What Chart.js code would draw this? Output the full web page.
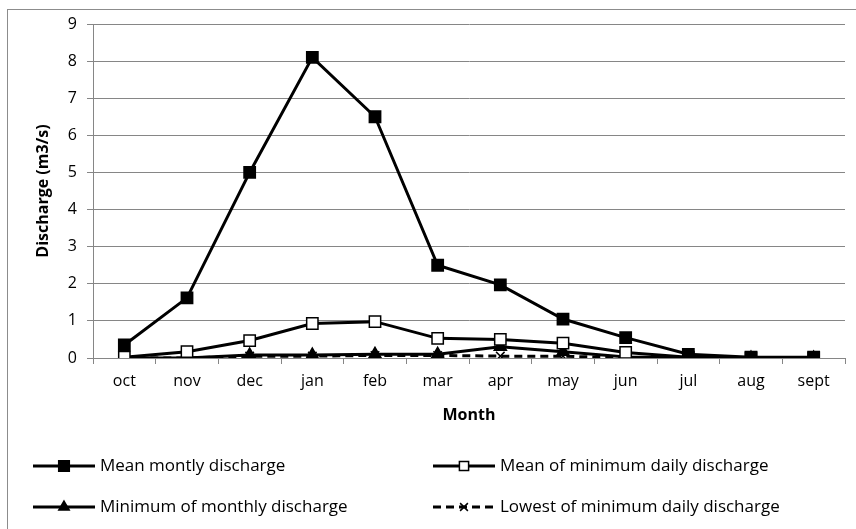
<!DOCTYPE html>
<html>
<head>
<meta charset="utf-8">
<script src="https://cdn.jsdelivr.net/npm/chart.js@4.4.1/dist/chart.umd.min.js"></script>
<style>
  html, body { margin: 0; padding: 0; background: #fff; overflow: hidden; }
  #wrap { position: relative; width: 856px; height: 529px; }
  #frame { position: absolute; left: 7px; top: 9px; width: 900px; height: 600px; border: 1px solid #8c8c8c; box-sizing: border-box; }
  canvas { position: absolute; left: 0; top: 0; }
</style>
</head>
<body>
<div id="wrap">
  <div id="frame"></div>
  <canvas id="chart" width="856" height="529"></canvas>
</div>
<script>
const months = ['oct', 'nov', 'dec', 'jan', 'feb', 'mar', 'apr', 'may', 'jun', 'jul', 'aug', 'sept'];
const meanMonthly = [0.35, 1.62, 5.0, 8.1, 6.5, 2.5, 1.97, 1.05, 0.55, 0.1, 0.02, 0.02];
const meanMinDaily = [0.02, 0.17, 0.47, 0.93, 0.98, 0.53, 0.5, 0.4, 0.15, 0.02, 0.0, 0.0];
const minMonthly = [0.0, 0.0, 0.08, 0.08, 0.1, 0.1, 0.3, 0.17, 0.03, 0.0, 0.0, 0.0];
const lowestMinDaily = [0.0, 0.0, 0.05, 0.05, 0.07, 0.07, 0.05, 0.05, 0.0, 0.0, 0.0, 0.0];
const yTicks = [0, 1, 2, 3, 4, 5, 6, 7, 8, 9];

const FONT = '"Open Sans", "Noto Sans", sans-serif';
const GRID = '#868686';

function series(label, data, style, opts) {
    return Object.assign({
        label: label,
        data: data,
        borderColor: '#000',
        backgroundColor: '#000',
        borderWidth: 3,
        pointStyle: style,
        pointRadius: 8,
        pointBorderColor: '#000',
        pointBackgroundColor: '#000',
        pointBorderWidth: 1.5,
        tension: 0,
        fill: false
    }, opts || {});
}

// 2x2 legend like the excel one: line sample, marker, label
const gridLegend = {
    id: 'gridLegend',
    afterDraw(chart) {
        const ctx = chart.ctx;
        const cols = [33, 433];
        const rows = [466, 507];
        chart.data.datasets.forEach((ds, i) => {
            const x = cols[i % 2];
            const y = rows[Math.floor(i / 2)];
            ctx.save();
            ctx.strokeStyle = '#000';
            ctx.lineWidth = 3;
            if (ds.borderDash) ctx.setLineDash(ds.borderDash);
            ctx.beginPath();
            ctx.moveTo(x, y);
            ctx.lineTo(x + 62, y);
            ctx.stroke();
            ctx.setLineDash([]);
            ctx.fillStyle = ds.pointBackgroundColor;
            ctx.strokeStyle = '#000';
            ctx.lineWidth = 1.5;
            Chart.helpers.drawPoint(ctx, { pointStyle: ds.pointStyle, radius: ds.legendRadius, borderWidth: 1.5, rotation: 0 }, x + 31, y);
            ctx.fillStyle = '#000';
            ctx.font = '17px ' + FONT;
            ctx.textBaseline = 'middle';
            ctx.fillText(ds.label, x + 67, y);
            ctx.restore();
        });
    }
};

new Chart(document.getElementById('chart'), {
    type: 'line',
    data: {
        labels: months,
        datasets: [
            series('Mean montly discharge', meanMonthly, 'rect', { legendRadius: 7.5 }),
            series('Mean of minimum daily discharge', meanMinDaily, 'rect', { pointBackgroundColor: '#fff', legendRadius: 6.5 }),
            series('Minimum of monthly discharge', minMonthly, 'triangle', { pointRadius: 7, legendRadius: 6 }),
            series('Lowest of minimum daily discharge', lowestMinDaily, 'crossRot', { borderDash: [8, 5], pointRadius: 6, legendRadius: 5.5 })
        ]
    },
    options: {
        responsive: false,
        animation: false,
        layout: { padding: { top: 24, left: 30, right: 11, bottom: 100 } },
        plugins: {
            legend: { display: false },
            tooltip: { enabled: false }
        },
        scales: {
            x: {
                offset: true,
                grid: { display: true, drawOnChartArea: false, drawTicks: true, tickLength: 6, color: GRID, offset: true },
                border: { color: GRID, width: 1 },
                ticks: { color: '#000', font: { family: FONT, size: 16 }, padding: 8 },
                title: { display: true, text: 'Month', color: '#000', font: { family: FONT, size: 16, weight: 'bold' }, padding: { top: 7 } },
                afterFit(scale) { scale.height = 71; }
            },
            y: {
                min: 0,
                max: 9,
                afterBuildTicks(scale) { scale.ticks = yTicks.map(v => ({ value: v })); },
                grid: { color: GRID, tickLength: 6 },
                border: { color: GRID, width: 1 },
                ticks: { color: '#000', font: { family: FONT, size: 16 }, padding: 10 },
                title: { display: true, text: 'Discharge (m3/s)', color: '#000', font: { family: FONT, size: 16, weight: 'bold' }, padding: { bottom: 6 } },
                afterFit(scale) { scale.width = 63; }
            }
        }
    },
    plugins: [gridLegend]
});
</script>
</body>
</html>
